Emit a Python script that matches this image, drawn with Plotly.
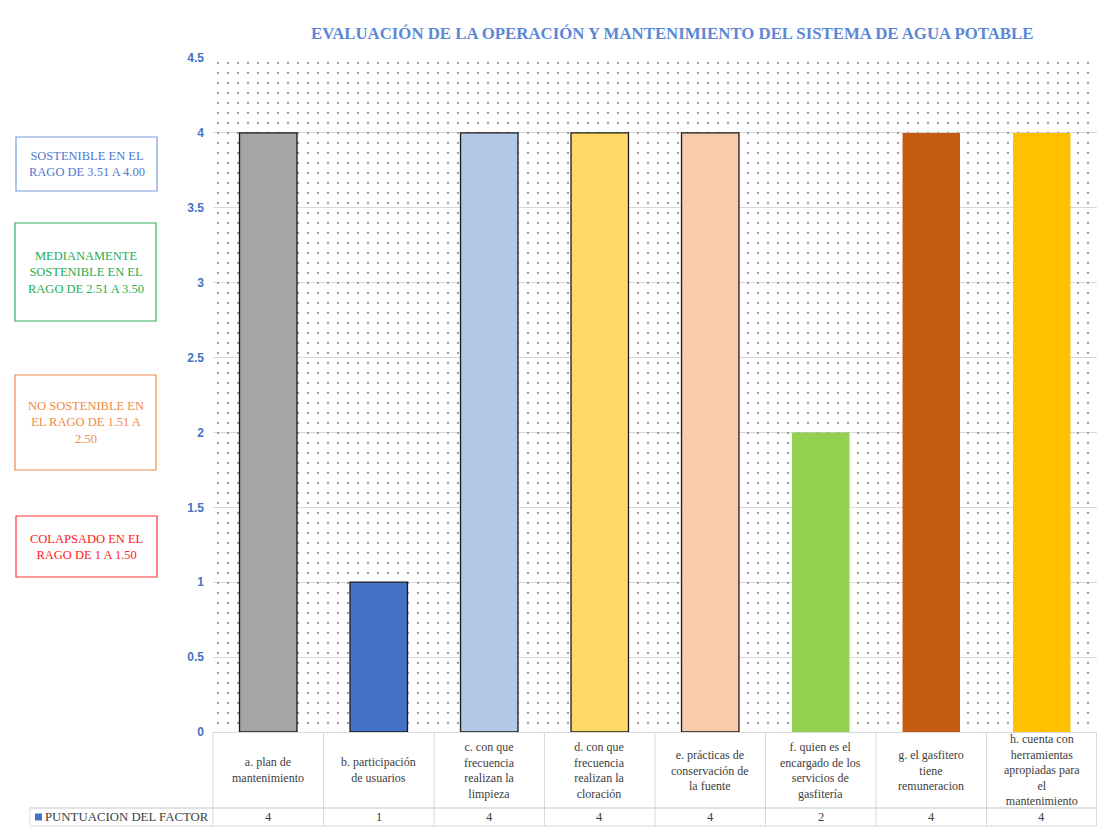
import plotly.graph_objects as go

# ---- data -------------------------------------------------------------
categories = [
    "a. plan de<br>mantenimiento",
    "b. participación<br>de usuarios",
    "c. con que<br>frecuencia<br>realizan la<br>limpieza",
    "d. con que<br>frecuencia<br>realizan la<br>cloración",
    "e. prácticas de<br>conservación de<br>la fuente",
    "f. quien es el<br>encargado de los<br>servicios de<br>gasfitería",
    "g. el gasfitero<br>tiene<br>remuneracion",
    "h. cuenta con<br>herramientas<br>apropiadas para<br>el<br>mantenimiento",
]
scores = [4, 1, 4, 4, 4, 2, 4, 4]
series_name = "PUNTUACION DEL FACTOR"
bar_colors = ["#a5a5a5", "#4472c4", "#b4c7e7", "#ffd966",
              "#f8cbad", "#92d050", "#c55a11", "#ffc000"]
outlined = [True, True, True, True, True, False, False, False]

range_boxes = [
    ("SOSTENIBLE EN EL<br>RAGO DE 3.51 A 4.00", "#4f78d0", "#7b9be0", (16, 137, 157, 191)),
    ("MEDIANAMENTE<br>SOSTENIBLE EN EL<br>RAGO DE 2.51 A 3.50", "#1fae55", "#2fb062", (15, 223, 156, 321)),
    ("NO SOSTENIBLE EN<br>EL RAGO DE 1.51 A<br>2.50", "#f08a44", "#f08a44", (15, 375, 156, 470)),
    ("COLAPSADO EN EL<br>RAGO DE 1 A 1.50", "#ff1a1a", "#ff3333", (16, 516, 157, 577)),
]

Y_MAX = 4.5
TITLE = "EVALUACIÓN DE LA OPERACIÓN Y MANTENIMIENTO DEL SISTEMA DE AGUA POTABLE"

# ---- geometry helpers (pixel -> paper) --------------------------------
W, H = 1097, 832
PL, PR, PT, PB = 213, 1097, 58, 732


def px_x(px):
    return (px - PL) / (PR - PL)


def px_y(py):
    return (PB - py) / (PB - PT)


n = len(categories)
xs = list(range(n))
SERIF = "'Liberation Serif', 'Times New Roman', Times, serif"
TEXT = "#404040"
GRID = "#d9d9d9"

fig = go.Figure()

# dotted plot-area background
fig.add_trace(go.Bar(
    x=[(n - 1) / 2], y=[Y_MAX], width=[n],
    marker=dict(color="rgba(0,0,0,0)", line=dict(width=0),
                pattern=dict(shape=".", fillmode="replace", fgcolor="#9a9a9a",
                             bgcolor="rgba(0,0,0,0)", size=10, solidity=0.04)),
    hoverinfo="skip", showlegend=False,
))

# score bars
fig.add_trace(go.Bar(
    x=xs, y=scores, width=0.52, name=series_name,
    marker=dict(color=bar_colors,
                line=dict(color=["#1a1a1a" if o else "rgba(0,0,0,0)" for o in outlined],
                          width=[1.3 if o else 0 for o in outlined])),
    showlegend=False,
))

fig.update_layout(
    width=W, height=H,
    margin=dict(l=PL, r=W - PR, t=PT, b=H - PB),
    paper_bgcolor="white", plot_bgcolor="white",
    barmode="overlay",
    xaxis=dict(range=[-0.5, n - 0.5], showticklabels=False, showgrid=False,
               zeroline=False, showline=True, linecolor=GRID, fixedrange=True),
    yaxis=dict(range=[0, Y_MAX], dtick=0.5, showgrid=True, gridcolor=GRID,
               zeroline=False, showline=False, ticklabelstandoff=8,
               tickfont=dict(family="Liberation Sans", size=12, color="#4472c4",
                             weight="bold")),
)

annotations = []
shapes = []

# title
annotations.append(dict(
    text=TITLE, x=px_x(672), y=px_y(33), xref="paper", yref="paper",
    xanchor="center", yanchor="middle", showarrow=False,
    font=dict(family=SERIF, size=16.8, color="#5b87d6", weight="bold"),
))

# data table under the plot
col_w = (PR - PL) / n
ROW_TOP, ROW_MID, ROW_BOT = PB, 808, 826
for i in range(n + 1):
    xp = PL + i * col_w
    if i == n:
        xp -= 0.5
    shapes.append(dict(type="line", xref="paper", yref="paper",
                       x0=px_x(xp), x1=px_x(xp), y0=px_y(ROW_TOP), y1=px_y(ROW_BOT),
                       line=dict(color=GRID, width=1)))
for yp, wd in ((ROW_MID, 1.5), (ROW_BOT, 1)):
    shapes.append(dict(type="line", xref="paper", yref="paper",
                       x0=px_x(30), x1=px_x(PR), y0=px_y(yp), y1=px_y(yp),
                       line=dict(color=GRID, width=wd)))
shapes.append(dict(type="line", xref="paper", yref="paper",
                   x0=px_x(30), x1=px_x(30), y0=px_y(ROW_MID), y1=px_y(ROW_BOT),
                   line=dict(color=GRID, width=1)))

for i, (cat, val) in enumerate(zip(categories, scores)):
    cx = PL + (i + 0.5) * col_w
    annotations.append(dict(
        text=cat, x=px_x(cx), y=px_y((ROW_TOP + ROW_MID) / 2), xref="paper", yref="paper",
        xanchor="center", yanchor="middle", showarrow=False,
        font=dict(family=SERIF, size=12, color=TEXT),
    ))
    annotations.append(dict(
        text=str(val), x=px_x(cx), y=px_y((ROW_MID + ROW_BOT) / 2), xref="paper", yref="paper",
        xanchor="center", yanchor="middle", showarrow=False,
        font=dict(family=SERIF, size=12.5, color=TEXT),
    ))

# series key in the table
shapes.append(dict(type="rect", xref="paper", yref="paper",
                   x0=px_x(35), x1=px_x(42), y0=px_y(813.5), y1=px_y(820.5),
                   fillcolor="#4472c4", line=dict(width=0)))
annotations.append(dict(
    text=series_name, x=px_x(43), y=px_y((ROW_MID + ROW_BOT) / 2), xref="paper", yref="paper",
    xanchor="left", yanchor="middle", showarrow=False,
    font=dict(family=SERIF, size=12.8, color=TEXT),
))

# sustainability range boxes
for text, tcolor, bcolor, (x0, y0, x1, y1) in range_boxes:
    shapes.append(dict(type="rect", xref="paper", yref="paper",
                       x0=px_x(x0), x1=px_x(x1), y0=px_y(y0), y1=px_y(y1),
                       fillcolor="white", line=dict(color=bcolor, width=1.2)))
    annotations.append(dict(
        text=text, x=px_x((x0 + x1) / 2), y=px_y((y0 + y1) / 2), xref="paper", yref="paper",
        xanchor="center", yanchor="middle", showarrow=False,
        font=dict(family=SERIF, size=12.5, color=tcolor),
    ))

fig.update_layout(annotations=annotations, shapes=shapes)
fig.write_html("out.html")
